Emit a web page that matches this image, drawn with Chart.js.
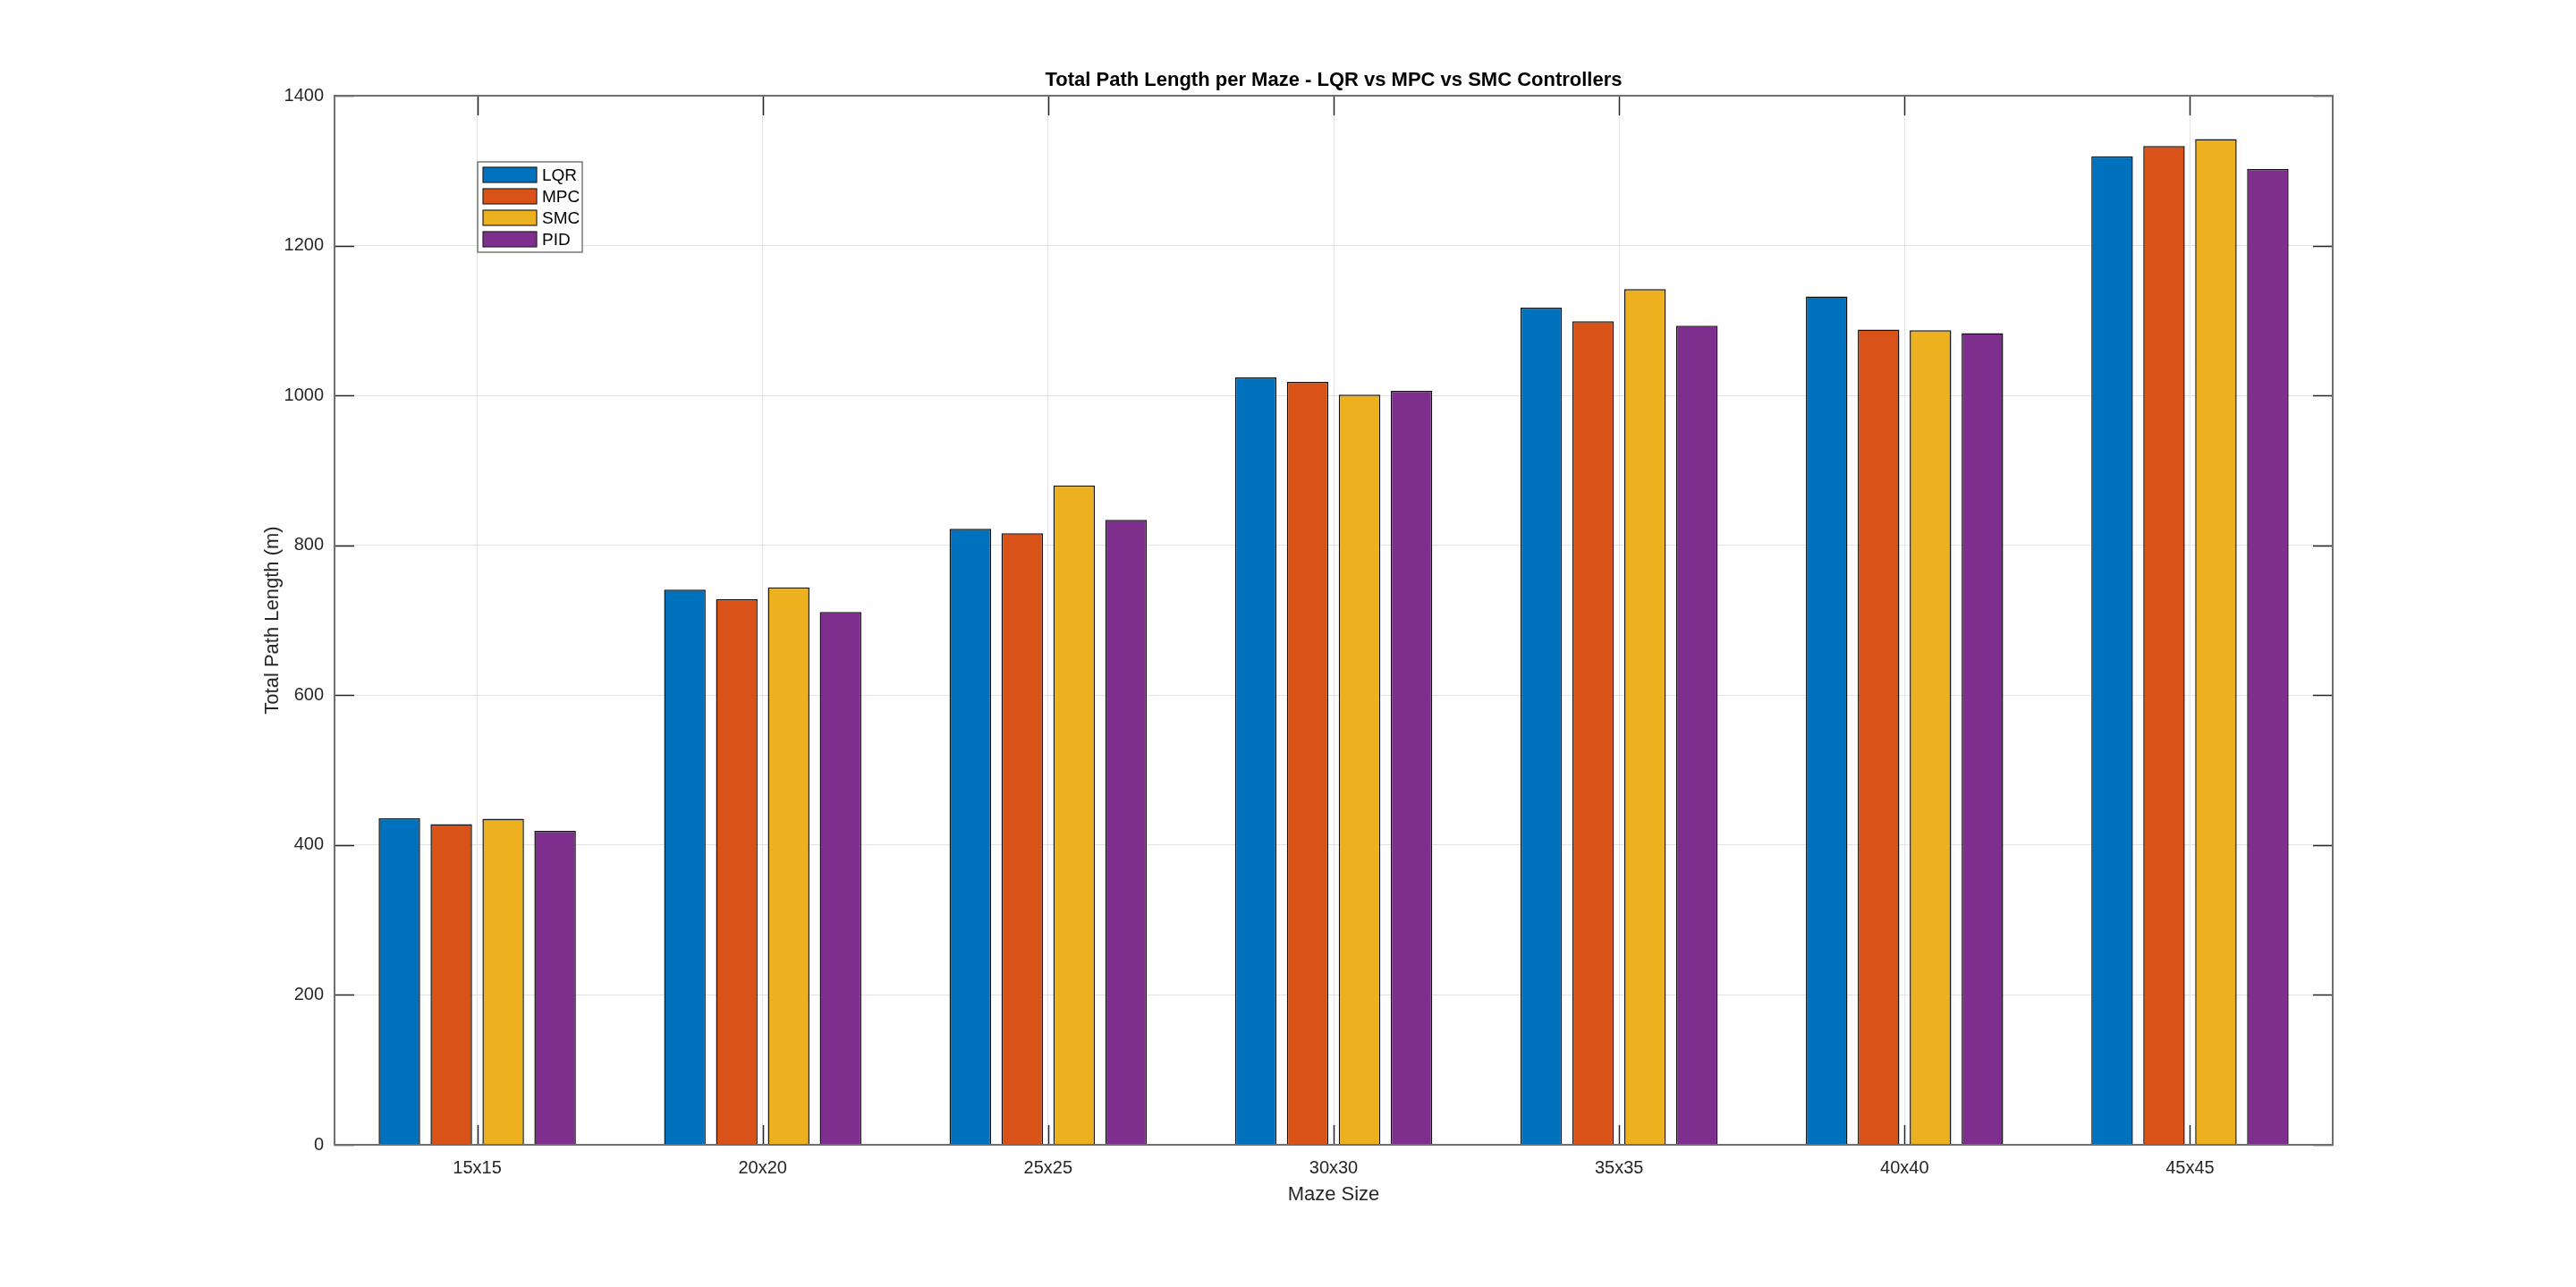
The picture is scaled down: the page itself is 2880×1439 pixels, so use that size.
<!DOCTYPE html>
<html>
<head>
<meta charset="utf-8">
<script src="https://cdn.jsdelivr.net/npm/chart.js@4.4.1/dist/chart.umd.min.js"></script>
<style>
  html, body { margin: 0; padding: 0; background: #fff; overflow: hidden; }
  canvas { display: block; }
</style>
</head>
<body>
<canvas id="chart" width="2880" height="1439"></canvas>
<script>
const mazeSizes = ['15x15', '20x20', '25x25', '30x30', '35x35', '40x40', '45x45'];
const lqr = [436, 741, 822, 1024, 1117, 1132, 1319];
const mpc = [428, 728, 816, 1018, 1099, 1088, 1333];
const smc = [435, 744, 880, 1001, 1142, 1087, 1342];
const pid = [419, 711, 834, 1006, 1093, 1083, 1302];
const seriesNames  = ['LQR', 'MPC', 'SMC', 'PID'];
const seriesColors = ['#0072BD', '#D95319', '#EDB120', '#7E2F8E'];
const yTicks = [0, 200, 400, 600, 800, 1000, 1200, 1400];
const chartTitle = 'Total Path Length per Maze - LQR vs MPC vs SMC Controllers';

const FONT = "'Liberation Sans', Arial, sans-serif";
const axisColor = '#262626';
const gridColor = '#e3e3e3';
const TICK = 22;

// matlab-style box, inward ticks, title over the axes and legend inside them
const matlabBox = {
  id: 'matlabBox',
  afterDatasetsDraw(chart) {
    const { ctx, chartArea: a, scales } = chart;
    ctx.save();
    ctx.strokeStyle = axisColor;
    ctx.lineWidth = 1.5;
    ctx.beginPath();
    yTicks.forEach(v => {
      const y = Math.round(scales.y.getPixelForValue(v)) + 0.5;
      ctx.moveTo(a.left, y);  ctx.lineTo(a.left + TICK, y);
      ctx.moveTo(a.right, y); ctx.lineTo(a.right - TICK, y);
    });
    mazeSizes.forEach((_, i) => {
      const x = Math.round(scales.x.getPixelForValue(i)) + 0.5;
      ctx.moveTo(x, a.bottom); ctx.lineTo(x, a.bottom - TICK);
      ctx.moveTo(x, a.top);    ctx.lineTo(x, a.top + TICK);
    });
    ctx.stroke();

    ctx.strokeStyle = '#6f6f6f';
    ctx.lineWidth = 2;
    ctx.strokeRect(a.left, a.top, a.right - a.left, a.bottom - a.top);

    // title
    ctx.fillStyle = '#000';
    ctx.font = 'bold 22px ' + FONT;
    ctx.textAlign = 'center';
    ctx.textBaseline = 'middle';
    ctx.fillText(chartTitle, (a.left + a.right) / 2, a.top - 17);

    // legend
    const lx = 534, ly = 181, lw = 117, lh = 101;
    ctx.fillStyle = '#fff';
    ctx.fillRect(lx, ly, lw, lh);
    ctx.strokeStyle = '#777';
    ctx.lineWidth = 1.5;
    ctx.strokeRect(lx, ly, lw, lh);
    ctx.font = '19px ' + FONT;
    ctx.textAlign = 'left';
    chart.data.datasets.forEach((ds, i) => {
      const cy = ly + 14.5 + i * 24;
      ctx.fillStyle = ds.backgroundColor;
      ctx.fillRect(lx + 6, cy - 8.5, 60, 17);
      ctx.strokeStyle = '#222';
      ctx.lineWidth = 1.2;
      ctx.strokeRect(lx + 6, cy - 8.5, 60, 17);
      ctx.fillStyle = '#000';
      ctx.fillText(ds.label, lx + 72, cy + 1);
    });
    ctx.restore();
  }
};

const values = [lqr, mpc, smc, pid];

new Chart(document.getElementById('chart'), {
  type: 'bar',
  data: {
    labels: mazeSizes,
    datasets: values.map((vals, i) => ({
      label: seriesNames[i],
      data: vals,
      backgroundColor: seriesColors[i],
      borderColor: '#111',
      borderWidth: 1.5,
      borderSkipped: 'bottom',
      categoryPercentage: 4 / 5.5,
      barPercentage: 0.8,
    })),
  },
  options: {
    responsive: false,
    devicePixelRatio: 1,
    animation: false,
    layout: { padding: { top: 107, left: 0, right: 272, bottom: 0 } },
    plugins: {
      legend: { display: false },
      tooltip: { enabled: false },
      title: { display: false },
    },
    scales: {
      x: {
        offset: true,
        grid: { color: gridColor, offset: false, drawTicks: false, lineWidth: 1 },
        border: { display: false },
        ticks: { color: axisColor, padding: 14, font: { family: FONT, size: 20 } },
        title: {
          display: true,
          text: 'Maze Size',
          color: axisColor,
          font: { family: FONT, size: 22, lineHeight: 1.2 },
          padding: { top: 0, bottom: 90 },
        },
        afterFit(scale) { scale.height = 159; },
      },
      y: {
        min: 0,
        max: 1400,
        grid: { color: gridColor, drawTicks: false, lineWidth: 1 },
        border: { display: false },
        ticks: {
          stepSize: 200,
          color: axisColor,
          padding: 12,
          font: { family: FONT, size: 20 },
          callback: v => String(v),
        },
        title: {
          display: true,
          text: 'Total Path Length (m)',
          color: axisColor,
          font: { family: FONT, size: 22, lineHeight: 1.2 },
          padding: { top: 292, bottom: 0 },
        },
        afterFit(scale) { scale.width = 374; },
      },
    },
  },
  plugins: [matlabBox],
});
</script>
</body>
</html>
